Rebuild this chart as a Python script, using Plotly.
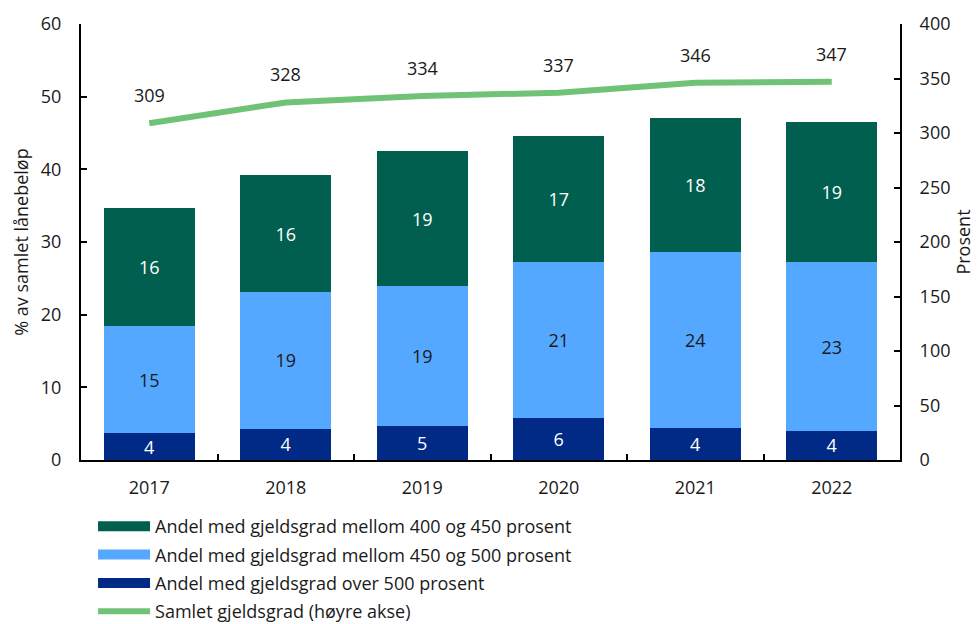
import plotly.graph_objects as go

years = ["2017", "2018", "2019", "2020", "2021", "2022"]
over500 = [3.7, 4.3, 4.7, 5.8, 4.4, 4.0]
mellom450_500 = [14.7, 18.8, 19.2, 21.4, 24.2, 23.2]
mellom400_450 = [16.3, 16.1, 18.6, 17.4, 18.4, 19.3]
samlet = [309, 328, 334, 337, 346, 347]

lbl_over500 = ["4", "4", "5", "6", "4", "4"]
lbl_450_500 = ["15", "19", "19", "21", "24", "23"]
lbl_400_450 = ["16", "16", "19", "17", "18", "19"]

names = [
    "Andel med gjeldsgrad mellom 400 og 450 prosent",
    "Andel med gjeldsgrad mellom 450 og 500 prosent",
    "Andel med gjeldsgrad over 500 prosent",
    "Samlet gjeldsgrad (høyre akse)",
]

c_green = "#005F4E"
c_light = "#55A8FF"
c_navy = "#002A86"
c_line = "#70C277"

FONT = "Open Sans"
FS = 18
fig = go.Figure()

def bar(vals, labels, color, tcolor):
    fig.add_trace(go.Bar(
        x=years, y=vals, text=labels, textposition="inside", insidetextanchor="middle",
        textangle=0,
        textfont=dict(color=tcolor, size=FS, family=FONT), marker=dict(color=color, line=dict(width=0)),
        showlegend=False, hoverinfo="skip", constraintext="none"))

bar(over500, lbl_over500, c_navy, "white")
bar(mellom450_500, lbl_450_500, c_light, "#1a1a1a")
bar(mellom400_450, lbl_400_450, c_green, "white")

fig.add_trace(go.Scatter(x=years, y=samlet, yaxis="y2", mode="lines",
                         line=dict(color=c_line, width=6), showlegend=False, hoverinfo="skip"))

for i, yv in enumerate(samlet):
    fig.add_annotation(x=i, y=yv, yref="y2", xref="x", text=str(yv), showarrow=False,
                       yshift=28, font=dict(size=FS, color="#1a1a1a", family=FONT))

# legend-only entries
for k, (nm, col, w) in enumerate(zip(names, [c_green, c_light, c_navy, c_line], [12, 12, 12, 6])):
    fig.add_trace(go.Scatter(x=years, y=[None] * len(years), mode="lines", name=nm,
                             legendgroup="g%d" % k,
                             line=dict(color=col, width=w), showlegend=True, hoverinfo="skip"))

fig.update_layout(
    width=979, height=624,
    margin=dict(l=81, r=79, t=24, b=164, autoexpand=False),
    paper_bgcolor="white", plot_bgcolor="white",
    barmode="stack", bargap=0.33,
    font=dict(family=FONT, size=FS, color="#1a1a1a"),
    xaxis=dict(type="category", range=[-0.5, len(years) - 0.5], autorange=False,
               showline=True, linecolor="black", linewidth=2,
               ticks="inside", ticklen=6, tickcolor="black", tickwidth=2, tickson="boundaries",
               showgrid=False, tickfont=dict(size=FS), automargin=False, ticklabelstandoff=10),
    yaxis=dict(range=[0, 60], dtick=10, showline=True, linecolor="black", linewidth=2,
               ticks="inside", ticklen=6, tickcolor="black", tickwidth=2, showgrid=False,
               zeroline=False, automargin=False, ticklabelstandoff=14,
               title=dict(text="% av samlet lånebeløp", font=dict(size=FS), standoff=8)),
    yaxis2=dict(range=[0, 400], dtick=50, overlaying="y", side="right", showline=True,
                linecolor="black", linewidth=2, ticks="inside", ticklen=6, tickcolor="black",
                tickwidth=2, showgrid=False, zeroline=False, automargin=False, ticklabelstandoff=14,
                title=dict(text="Prosent", font=dict(size=FS), standoff=8)),
    legend=dict(x=0.0147, y=-0.11, xanchor="left", yanchor="top", traceorder="grouped",
                font=dict(size=FS), tracegroupgap=2, itemwidth=52, bgcolor="rgba(0,0,0,0)"),
)

fig.write_html("out.html", config={"displayModeBar": False},
               post_script="document.body.style.margin='0';document.body.style.overflow='hidden';")
